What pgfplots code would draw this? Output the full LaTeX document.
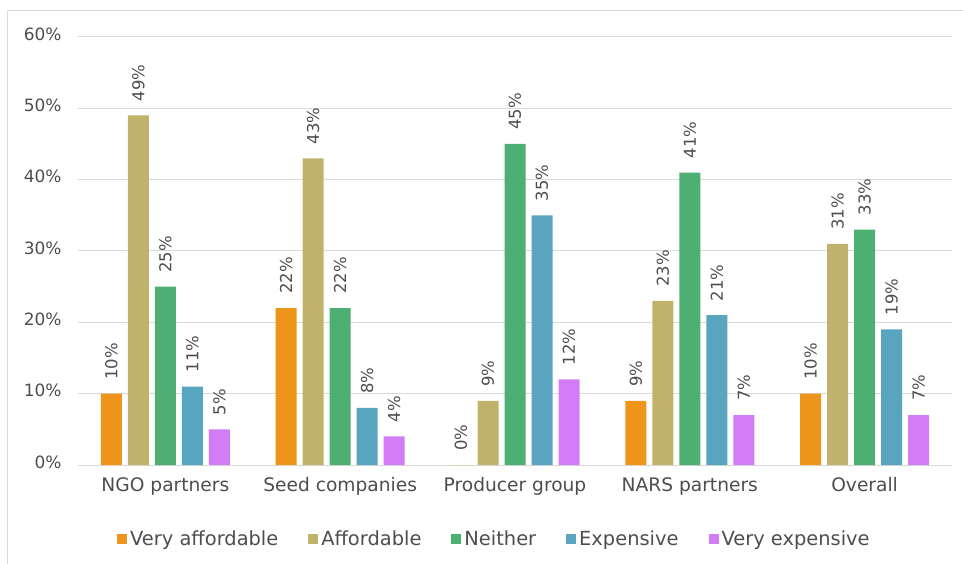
\documentclass[border=0pt]{standalone}
\usepackage{pgfplots}
\pgfplotsset{compat=1.18}
\usepackage{fontspec}
\setmainfont{DejaVu Sans}
\definecolor{cVA}{RGB}{239,148,26}
\definecolor{cA}{RGB}{192,178,106}
\definecolor{cN}{RGB}{77,175,114}
\definecolor{cE}{RGB}{89,165,192}
\definecolor{cVE}{RGB}{210,125,245}
\definecolor{txt}{HTML}{4D4D4D}
\definecolor{grd}{HTML}{D9D9D9}
\begin{document}
\begin{tikzpicture}
\useasboundingbox (-78bp,-99bp) rectangle (885bp,465bp);
\draw[grd, line width=1bp] (-70bp,-130bp) rectangle (900bp,454bp);
\begin{axis}[
  at={(0,0)}, anchor=south west,
  scale only axis, width=874bp, height=428bp,
  ybar=6bp, bar width=21bp,
  xmin=-0.5, xmax=4.5,
  ymin=0, ymax=60,
  xtick={0,1,2,3,4},
  xticklabels={NGO partners,Seed companies,Producer group,NARS partners,Overall},
  ytick={0,10,20,30,40,50,60},
  yticklabel={\pgfmathprintnumber{\tick}\%},
  /pgf/number format/assume math mode=true,
  ymajorgrids, grid style={draw=grd, line width=1bp},
  axis x line*=bottom, axis y line*=left,
  x axis line style={draw=grd, line width=1bp, -},
  y axis line style={draw=none},
  major tick length=0pt,
  tick label style={font=\fontsize{17}{20}\selectfont, text=txt},
  xticklabel style={font=\fontsize{18.7}{22}\selectfont, anchor=base, yshift=-26bp},
  yticklabel style={anchor=east, xshift=-13bp, yshift=3bp},
  nodes near coords={\pgfmathprintnumber{\pgfplotspointmeta}\%},
  nodes near coords style={rotate=90, anchor=west, inner xsep=14bp, inner ysep=0pt,
     font=\fontsize{16.5}{18}\selectfont, text=txt},
  legend columns=5,
  legend style={at={(0.477,-0.172)}, anchor=center, draw=none, fill=none,
     font=\fontsize{19.5}{22}\selectfont, text=txt,
     /tikz/every even column/.append style={column sep=27bp},
     nodes={inner xsep=3bp}},
  legend image code/.code={\fill[#1,draw=none] (0bp,-5bp) rectangle (10bp,5bp);},
]
\addplot[fill=cVA, draw=none] coordinates {(0,10) (1,22) (2,0) (3,9) (4,10)};
\addplot[fill=cA, draw=none] coordinates {(0,49) (1,43) (2,9) (3,23) (4,31)};
\addplot[fill=cN, draw=none] coordinates {(0,25) (1,22) (2,45) (3,41) (4,33)};
\addplot[fill=cE, draw=none] coordinates {(0,11) (1,8) (2,35) (3,21) (4,19)};
\addplot[fill=cVE, draw=none] coordinates {(0,5) (1,4) (2,12) (3,7) (4,7)};
\legend{Very affordable,Affordable,Neither,Expensive,Very expensive}
\end{axis}
\end{tikzpicture}
\end{document}
